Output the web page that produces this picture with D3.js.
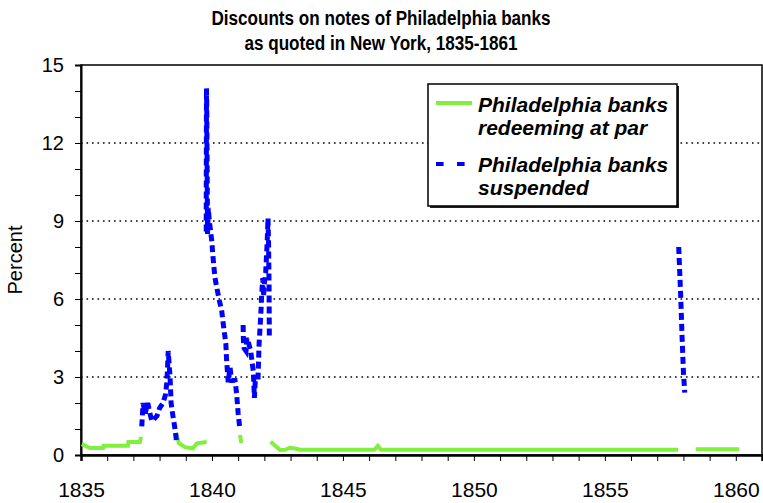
<!DOCTYPE html>
<html>
<head>
<meta charset="utf-8">
<script src="https://cdn.jsdelivr.net/npm/d3@7"></script>
<style>
  body { margin: 0; background: #fff; }
  text { font-family: "Liberation Sans", Arial, sans-serif; }
</style>
</head>
<body>
<svg id="chart" width="763" height="503"></svg>
<script>
const titleLines = ["Discounts on notes of Philadelphia banks", "as quoted in New York, 1835-1861"];
const yTicks = [0, 3, 6, 9, 12, 15];
const xTicks = [1835, 1840, 1845, 1850, 1855, 1860];
const legendPar = ["Philadelphia banks", "redeeming at par"];
const legendSusp = ["Philadelphia banks", "suspended"];

// [year, percent]; null = gap
const parSeries = [
  [1835.03, 0.42], [1835.34, 0.27], [1835.84, 0.27], [1835.86, 0.36], [1836.79, 0.36],
  [1836.81, 0.5], [1837.25, 0.5], [1837.29, 0.7],
  null,
  [1838.63, 0.85], [1838.74, 0.45], [1838.97, 0.3], [1839.27, 0.25], [1839.42, 0.45], [1839.8, 0.5],
  null,
  [1841.07, 0.77], [1841.12, 0.46],
  null,
  [1842.24, 0.51], [1842.6, 0.19], [1842.79, 0.2], [1842.98, 0.28], [1843.17, 0.25],
  [1843.36, 0.2], [1846.2, 0.2], [1846.33, 0.35], [1846.45, 0.2], [1857.8, 0.2],
  null,
  [1858.47, 0.22], [1860.13, 0.22]
];

const suspSeries = [
  [1837.32, 1.1], [1837.37, 2.0], [1837.45, 1.6], [1837.55, 2.0], [1837.63, 1.6],
  [1837.71, 1.3], [1837.9, 1.5], [1838.0, 1.8], [1838.13, 2.0], [1838.22, 2.3],
  [1838.28, 2.8], [1838.33, 4.0], [1838.4, 3.0], [1838.44, 2.0], [1838.51, 1.5],
  [1838.59, 1.0], [1838.65, 0.5],
  null,
  [1839.78, 8.6], [1839.79, 14.1], [1839.8, 13.5], [1839.81, 12.0], [1839.82, 10.5],
  [1839.83, 8.5], [1839.86, 9.5], [1839.9, 9.0], [1839.99, 8.25], [1840.05, 7.5],
  [1840.11, 6.85], [1840.18, 6.46], [1840.28, 5.95], [1840.37, 5.57], [1840.43, 5.05],
  [1840.53, 4.28], [1840.56, 3.63], [1840.62, 2.8], [1840.69, 3.38], [1840.75, 2.87],
  [1840.88, 2.87], [1840.94, 2.37], [1841.0, 1.6], [1841.07, 0.96],
  null,
  [1841.19, 5.0], [1841.2, 4.4], [1841.23, 4.1], [1841.3, 4.0], [1841.33, 4.5],
  [1841.4, 4.3], [1841.48, 4.0], [1841.53, 3.6], [1841.58, 3.2], [1841.62, 2.2],
  [1841.66, 3.0], [1841.76, 3.0], [1841.8, 4.3], [1841.86, 5.3], [1841.9, 6.2],
  [1841.94, 6.8], [1841.97, 6.1], [1842.0, 6.6], [1842.05, 7.0], [1842.1, 8.0],
  [1842.14, 9.1], [1842.16, 8.2], [1842.18, 6.5], [1842.19, 4.6],
  null,
  [1857.82, 8.0], [1857.86, 7.0], [1857.9, 6.0], [1857.95, 4.5], [1858.0, 3.2], [1858.05, 2.4]
];

const margin = { top: 65, right: 1, bottom: 48, left: 81 };
const width = 763, height = 503;
const svg = d3.select("#chart");

const x = d3.scaleLinear().domain([1835, 1861]).range([margin.left, width - margin.right]);
const y = d3.scaleLinear().domain([0, 15]).range([height - margin.bottom, margin.top]);

// grid
svg.append("g")
  .selectAll("line")
  .data(yTicks.filter(d => d > 0 && d < 15))
  .join("line")
  .attr("x1", x(1835)).attr("x2", x(1861))
  .attr("y1", d => y(d)).attr("y2", d => y(d))
  .attr("stroke", "#000")
  .attr("stroke-width", 1.6)
  .attr("stroke-dasharray", "1.6,3.9");

// frame
svg.append("rect")
  .attr("x", x(1835)).attr("y", y(15))
  .attr("width", x(1861) - x(1835)).attr("height", y(0) - y(15))
  .attr("fill", "none").attr("stroke", "#000").attr("stroke-width", 1.5);

// y axis
const yAxis = svg.append("g")
  .attr("transform", `translate(${x(1835)},0)`)
  .call(d3.axisLeft(y).tickValues(d3.range(0, 16)).tickSize(6)
    .tickFormat(d => yTicks.includes(d) ? d : ""));
yAxis.select(".domain").attr("stroke-width", 2);
yAxis.selectAll("text").attr("font-size", 20).attr("fill", "#000").attr("x", -17);

// x axis
const xAxis = svg.append("g")
  .attr("transform", `translate(0,${y(0)})`)
  .call(d3.axisBottom(x).tickValues(d3.range(1835, 1861)).tickSize(6)
    .tickFormat(d => xTicks.includes(d) ? d : ""));
xAxis.select(".domain").attr("stroke-width", 2.5);
xAxis.selectAll("text").attr("font-size", 21).attr("fill", "#000").attr("y", 27);

// y label
svg.append("text")
  .attr("transform", `translate(22,${(y(0) + y(15)) / 2}) rotate(-90)`)
  .attr("text-anchor", "middle")
  .attr("font-size", 20)
  .text("Percent");

// title, narrowed to the reference's condensed face
svg.append("g").selectAll("text")
  .data(titleLines)
  .join("text")
  .attr("x", 381)
  .attr("y", (d, i) => 25 + i * 25)
  .attr("text-anchor", "middle")
  .attr("font-size", 20)
  .attr("font-weight", "bold")
  .text(d => d)
  .each(function () {
    const len = this.getComputedTextLength();
    d3.select(this).attr("textLength", len * 0.855).attr("lengthAdjust", "spacingAndGlyphs");
  });

const line = d3.line()
  .defined(d => d !== null)
  .x(d => x(d[0]))
  .y(d => y(d[1]));

svg.append("path")
  .datum(parSeries)
  .attr("d", line)
  .attr("fill", "none")
  .attr("stroke", "#80f03c")
  .attr("stroke-width", 4);

svg.append("path")
  .datum(suspSeries)
  .attr("d", line)
  .attr("fill", "none")
  .attr("stroke", "#0000ff")
  .attr("stroke-width", 5)
  .attr("stroke-dasharray", "7,4");

// legend
const lg = svg.append("g").attr("transform", "translate(428,84)");
lg.append("rect").attr("x", 2).attr("y", 2).attr("width", 249).attr("height", 122).attr("fill", "#222");
lg.append("rect").attr("width", 249).attr("height", 122).attr("fill", "#fff")
  .attr("stroke", "#000").attr("stroke-width", 1.5);
lg.append("line").attr("x1", 8).attr("x2", 44).attr("y1", 19).attr("y2", 19)
  .attr("stroke", "#80f03c").attr("stroke-width", 4);
lg.append("line").attr("x1", 8).attr("x2", 37).attr("y1", 80).attr("y2", 80)
  .attr("stroke", "#0000ff").attr("stroke-width", 4).attr("stroke-dasharray", "7.6,13.4");
const legendText = (lines, y0) => lg.append("g").selectAll("text")
  .data(lines).join("text")
  .attr("x", 50).attr("y", (d, i) => y0 + i * 23)
  .attr("font-size", 21).attr("font-weight", "bold").attr("font-style", "italic")
  .text(d => d);
legendText(legendPar, 28);
legendText(legendSusp, 88);
</script>
</body>
</html>
